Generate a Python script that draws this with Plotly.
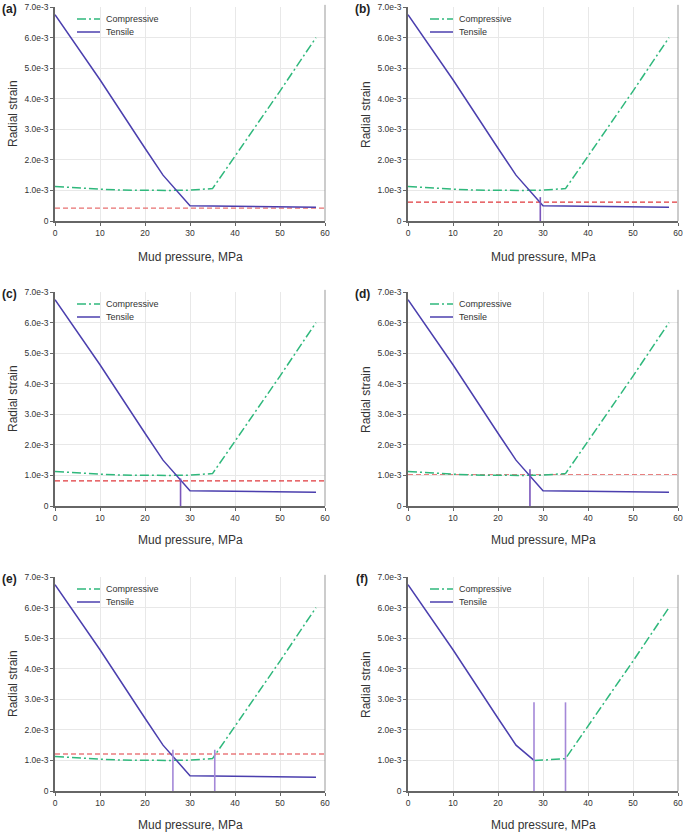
import plotly.graph_objects as go

# ---------------- data ----------------
panel_labels = ["(a)", "(b)", "(c)", "(d)", "(e)", "(f)"]

x_ticks = [0, 10, 20, 30, 40, 50, 60]
y_ticks = [0, 1e-3, 2e-3, 3e-3, 4e-3, 5e-3, 6e-3, 7e-3]
y_ticktext = ["0", "1.0e-3", "2.0e-3", "3.0e-3", "4.0e-3", "5.0e-3", "6.0e-3", "7.0e-3"]

# common curves (panels a-e)
tensile_p = [0, 10, 20, 24, 30, 58]
tensile_s = [6.75e-3, 4.62e-3, 2.38e-3, 1.50e-3, 0.50e-3, 0.45e-3]
comp_p = [0, 5, 10, 15, 20, 25, 30, 35, 40, 50, 58]
comp_s = [1.13e-3, 1.08e-3, 1.04e-3, 1.01e-3, 1.00e-3, 1.00e-3, 1.01e-3, 1.06e-3, 2.12e-3, 4.25e-3, 6.0e-3]

# panel (f) envelope
tensile_f_p = [0, 10, 20, 24, 28]
tensile_f_s = [6.75e-3, 4.62e-3, 2.38e-3, 1.50e-3, 1.00e-3]
comp_f_p = [28, 30, 35, 40, 50, 58]
comp_f_s = [1.00e-3, 1.01e-3, 1.06e-3, 2.12e-3, 4.25e-3, 6.0e-3]

# horizontal strain limits (red dashed), None = not shown
limit_strain = [0.42e-3, 0.62e-3, 0.82e-3, 1.03e-3, 1.21e-3, None]
# vertical marker pressures and their heights
marker_p = [[], [29.4], [27.9], [27.1], [26.2, 35.5], [28.0, 35.0]]
marker_h = [0, 0.78e-3, 0.90e-3, 1.20e-3, 1.35e-3, 2.90e-3]

# ---------------- style ----------------
W, H = 685, 833
FONT = "Liberation Sans, Arial, sans-serif"
C_TEN = "#4b3fae"
C_COMP = "#2fb87c"
C_RED = ["#e87070", "#e0393c", "#e0393c", "#e88080", "#e0393c", "#e0393c"]
C_MARK = ["#7a55bb", "#7a55bb", "#7a55bb", "#7a55bb", "#a488d8", "#a488d8"]
TXT = "#333333"

cols_px = [(55, 325), (408, 678)]
rows_px = [(7, 221), (292, 506), (577, 791)]
title_off = [36, 34, 34]

fig = go.Figure()
layout = dict(
    width=W, height=H,
    template="none",
    margin=dict(l=0, r=0, t=0, b=0),
    paper_bgcolor="white", plot_bgcolor="white",
    showlegend=False,
    font=dict(family=FONT, color=TXT),
)
annotations = []
shapes = []

for i in range(6):
    r, c = divmod(i, 2)
    x0, x1 = cols_px[c]
    y0, y1 = rows_px[r]
    n = "" if i == 0 else str(i + 1)
    xa, ya = "x" + n, "y" + n
    layout["xaxis" + n] = dict(
        domain=[x0 / W, x1 / W], anchor=ya, range=[0, 60], automargin=False,
        tickvals=x_ticks, showgrid=True, gridcolor="#e8e8e8", gridwidth=1,
        showline=True, linecolor="#666", linewidth=1.5,
        ticks="outside", ticklen=3, tickcolor="#666", ticklabeloverflow="allow",
        tickfont=dict(size=8.5, color=TXT), zeroline=False,
    )
    layout["yaxis" + n] = dict(
        domain=[1 - y1 / H, 1 - y0 / H], anchor=xa, range=[0, 7e-3], automargin=False,
        tickvals=y_ticks, ticktext=y_ticktext, showgrid=True, gridcolor="#e8e8e8",
        showline=True, linecolor="#666", linewidth=1.5,
        ticks="outside", ticklen=3, tickcolor="#666", ticklabeloverflow="allow",
        tickfont=dict(size=8.5, color=TXT), zeroline=False,
    )

    if i < 5:
        tp, ts, cp, cs = tensile_p, tensile_s, comp_p, comp_s
    else:
        tp, ts, cp, cs = tensile_f_p, tensile_f_s, comp_f_p, comp_f_s

    if limit_strain[i] is not None:
        fig.add_trace(go.Scatter(x=[0, 60], y=[limit_strain[i]] * 2, mode="lines",
                                 line=dict(color=C_RED[i], width=1.2, dash="5px,3px"),
                                 xaxis=xa, yaxis=ya, hoverinfo="skip"))
    fig.add_trace(go.Scatter(x=cp, y=cs, mode="lines", name="Compressive",
                             line=dict(color=C_COMP, width=1.5, dash="9px,3px,2px,3px"),
                             xaxis=xa, yaxis=ya))
    fig.add_trace(go.Scatter(x=tp, y=ts, mode="lines", name="Tensile",
                             line=dict(color=C_TEN, width=1.5),
                             xaxis=xa, yaxis=ya))
    for p in marker_p[i]:
        fig.add_trace(go.Scatter(x=[p, p], y=[0, marker_h[i]], mode="lines",
                                 line=dict(color=C_MARK[i], width=1.6),
                                 xaxis=xa, yaxis=ya, hoverinfo="skip"))

    # right frame line
    shapes.append(dict(type="line", xref=xa + " domain", yref=ya + " domain",
                       x0=1, x1=1, y0=0, y1=1.01, line=dict(color="#999", width=1)))

    # manual legend
    pw, ph = x1 - x0, y1 - y0
    for k, (lab, col, dash) in enumerate([("Compressive", C_COMP, "9px,3px,2px,3px"),
                                           ("Tensile", C_TEN, "solid")]):
        yy = 1 - (12 + 13 * k) / ph
        shapes.append(dict(type="line", xref=xa + " domain", yref=ya + " domain",
                           x0=22 / pw, x1=45 / pw, y0=yy, y1=yy,
                           line=dict(color=col, width=1.5, dash=dash)))
        annotations.append(dict(text=lab, xref=xa + " domain", yref=ya + " domain",
                                x=49 / pw, y=yy, xanchor="left", yanchor="middle",
                                showarrow=False, font=dict(size=9, color=TXT)))

    # axis titles
    annotations.append(dict(text="Mud pressure, MPa", xref="paper", yref="paper",
                            x=(x0 + x1) / 2 / W, y=1 - (y1 + title_off[r]) / H,
                            xanchor="center", yanchor="middle", showarrow=False,
                            font=dict(size=12, color=TXT)))
    annotations.append(dict(text="Radial strain", xref="paper", yref="paper",
                            x=(x0 - 42) / W, y=1 - (y0 + y1) / 2 / H, textangle=-90,
                            xanchor="center", yanchor="middle", showarrow=False,
                            font=dict(size=12, color=TXT)))
    # panel label
    annotations.append(dict(text="<b>%s</b>" % panel_labels[i], xref="paper", yref="paper",
                            x=(x0 - 46) / W, y=1 - (y0 + 2) / H,
                            xanchor="center", yanchor="middle", showarrow=False,
                            font=dict(size=12, color="#222")))

layout["annotations"] = annotations
layout["shapes"] = shapes
fig.update_layout(**layout)
fig.write_html("out.html", config={"displayModeBar": False},
               post_script="document.body.style.margin='0';document.body.style.overflow='hidden';")
